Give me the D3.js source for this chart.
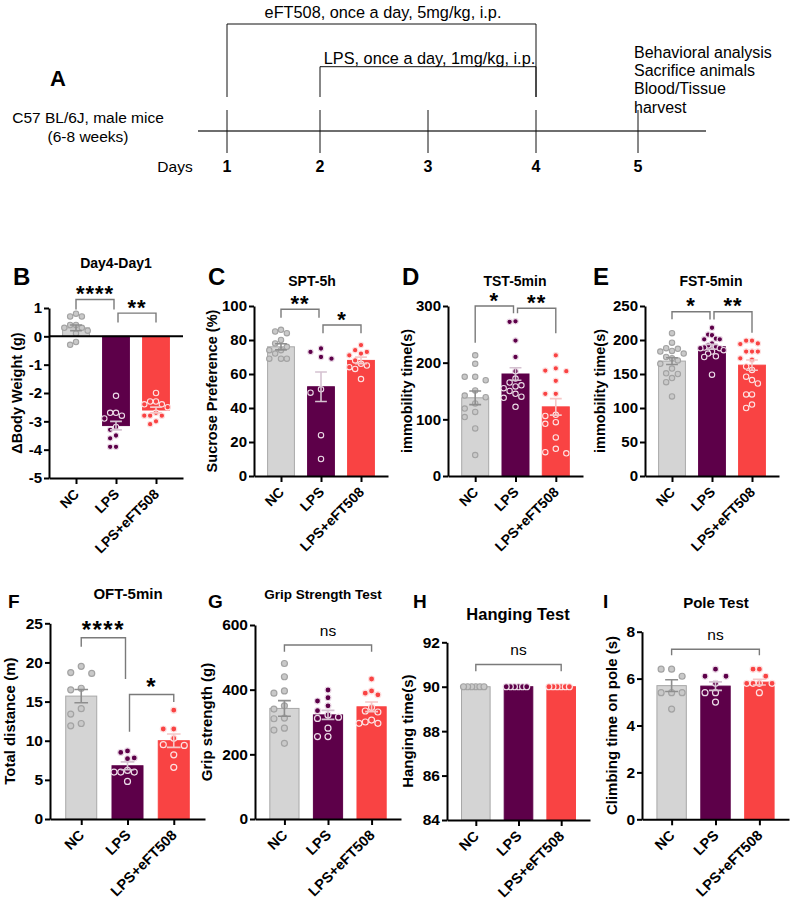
<!DOCTYPE html>
<html><head><meta charset="utf-8">
<script src="https://cdn.jsdelivr.net/npm/d3@7"></script>
<style>
body{margin:0;background:#fff}
svg{display:block}
text{font-family:"Liberation Sans",Arial,Helvetica,sans-serif;fill:#000}
</style></head>
<body><svg id="fig" width="790" height="908"></svg>
<script>
// ---------- DATA ----------
const groups = ["NC", "LPS", "LPS+eFT508"];

// Panel A (timeline)
const days = [1, 2, 3, 4, 5];
const dayAxisLabel = "Days";
const treatmentLabels = ["eFT508, once a day, 5mg/kg, i.p.", "LPS, once a day, 1mg/kg, i.p."];
const treatmentStart = [1, 2];
const treatmentEnd = [4, 4];
const animalLabel = ["C57 BL/6J, male mice", "(6-8 weeks)"];
const endpointLabel = ["Behavioral analysis", "Sacrifice animals", "Blood/Tissue", "harvest"];

// Panel B  Day4-Day1
const weightTicks = [-5, -4, -3, -2, -1, 0, 1];
const weightNC  = [0.8, 0.7, 0.7, 0.4, 0.4, 0.3, 0.3, 0.2, 0.1, -0.2, -0.3];
const weightLPS = [-2.1, -2.7, -2.7, -2.8, -2.9, -3.2, -3.3, -3.5, -3.6, -3.9, -3.9];
const weightEFT = [-2.0, -2.3, -2.3, -2.4, -2.4, -2.5, -2.7, -2.8, -2.8, -2.8, -3.0, -3.1];
const weightMean = [0.3, -3.15, -2.6];
const weightSEM  = [0.1, 0.15, 0.1];
const weightSig  = [[0, 1, "****", 1.30, 0.95, 0.95], [1, 2, "**", 0.82, 0.49, 0.49]];

// Panel C  SPT-5h
const sptTicks = [0, 20, 40, 60, 80, 100];
const sptNC  = [86, 85, 84, 80, 78, 76, 74, 74, 72, 69, 69, 69];
const sptLPS = [75, 73, 70, 69, 51, 49, 24, 10];
const sptEFT = [77, 74, 73, 72, 71, 68, 66, 65, 64, 63, 57];
const sptMean = [76, 52.5, 68];
const sptSEM  = [1.8, 8.7, 1.9];
const sptSig  = [[0, 1, "**", 98.1, 93.1, 93.1], [1, 2, "*", 88.8, 84, 84]];

// Panel D  TST-5min
const tstTicks = [0, 100, 200, 300];
const tstNC  = [213, 198, 175, 175, 169, 151, 142, 139, 128, 119, 113, 104, 84, 37];
const tstLPS = [273, 272, 239, 210, 185, 172, 165, 160, 158, 155, 150, 145, 140, 138, 122];
const tstEFT = [213, 190, 186, 185, 168, 145, 145, 108, 106, 95, 92, 68, 48, 42, 40];
const tstMean = [138, 180, 122];
const tstSEM  = [12, 11, 14.5];
const tstSig  = [[0, 1, "*", 300, 235, 287], [1, 2, "**", 296, 287, 252]];

// Panel E  FST-5min
const fstTicks = [0, 50, 100, 150, 200, 250];
const fstNC  = [210, 196, 188, 187, 184, 183, 180, 175, 173, 170, 165, 158, 151, 150, 144, 138, 117];
const fstLPS = [218, 208, 207, 202, 201, 201, 195, 192, 190, 189, 188, 188, 185, 183, 180, 176, 175, 149];
const fstEFT = [199, 199, 195, 194, 183, 183, 183, 173, 171, 161, 156, 146, 141, 136, 120, 120, 105, 100];
const fstMean = [169, 190, 163];
const fstSEM  = [5, 3.5, 7.5];
const fstSig  = [[0, 1, "*", 241.6, 230.4, 230], [1, 2, "**", 241.6, 230, 210.7]];

// Panel F  OFT-5min
const oftTicks = [0, 5, 10, 15, 20, 25];
const oftNC  = [19.5, 18.7, 18.6, 16.7, 16.5, 14.1, 13.4, 12.2, 11.9];
const oftLPS = [8.7, 8.5, 7.8, 7.7, 6.2, 6.0, 6.0, 6.0, 4.8];
const oftEFT = [13.9, 11.5, 11.5, 10.3, 9.5, 9.4, 8.2, 6.6];
const oftMean = [15.7, 6.8, 10.0];
const oftSEM  = [0.85, 0.5, 0.85];
const oftSig  = [[0, 1, "****", 23.15, 22.0, 17.9], [1, 2, "*", 15.9, 11.15, 14.95]];

// Panel G  Grip Strength Test
const gripTicks = [0, 200, 400, 600];
const gripNC  = [481, 440, 396, 389, 350, 340, 312, 310, 281, 275, 234];
const gripLPS = [399, 375, 365, 350, 335, 322, 315, 311, 281, 255, 255];
const gripEFT = [433, 396, 389, 384, 345, 334, 331, 306, 300, 296, 296];
const gripMean = [342, 322, 347];
const gripSEM  = [24, 14, 15];
const gripSig  = [[0, 2, "ns", 538, 517, 517]];

// Panel H  Hanging Test
const hangTicks = [84, 86, 88, 90, 92];
const hangNC  = [90, 90, 90, 90, 90, 90];
const hangLPS = [90, 90, 90, 90, 90, 90];
const hangEFT = [90, 90, 90, 90, 90, 90];
const hangMean = [90, 90, 90];
const hangSEM  = [0, 0, 0];
const hangSig  = [[0, 2, "ns", 91.0, 90.7, 90.7]];

// Panel I  Pole Test
const poleTicks = [0, 2, 4, 6, 8];
const poleNC  = [6.4, 6.4, 6.1, 5.4, 5.4, 5.4, 4.7];
const poleLPS = [6.4, 6.1, 6.1, 5.8, 5.4, 5.4, 5.0];
const poleEFT = [6.4, 6.4, 6.1, 5.8, 5.8, 5.8, 5.8, 5.4];
const poleMean = [5.7, 5.68, 5.85];
const poleSEM  = [0.25, 0.18, 0.12];
const poleSig  = [[0, 2, "ns", 7.25, 7.0, 7.0]];

// ---------- STYLE ----------
const barFill   = ["#d4d4d4", "#5d0049", "#f94343"];
const barStroke = ["#a8a8a8", "#5d0049", "#f94343"];
const ptFill    = ["#c9c9c9", "#5d0049", "#f94343"];
const ptStroke  = ["#a3a3a3", "#ecdce8", "#fde2e2"];
const errColor  = ["#8e8e8e", "#d5c2d1", "#f6c6c6"];

const svg = d3.select("#fig");

// ---------- PANEL A ----------
(function drawA(){
  const g = svg.append("g");
  const ax = d3.scaleLinear().domain(days).range([227, 320, 428, 536, 638]);
  g.append("text").attr("x", 50).attr("y", 86).attr("font-size", 22).attr("font-weight", "bold").text("A");
  g.append("line").attr("x1", 198).attr("x2", 706).attr("y1", 131).attr("y2", 131)
    .attr("stroke", "#6e6e6e").attr("stroke-width", 2.2);
  days.forEach(d => {
    g.append("line").attr("x1", ax(d)).attr("x2", ax(d)).attr("y1", 110).attr("y2", 153)
      .attr("stroke", "#111").attr("stroke-width", 1);
    g.append("text").attr("x", ax(d)).attr("y", 172).attr("text-anchor", "middle")
      .attr("font-size", 16).attr("font-weight", "bold").text(d);
  });
  g.append("text").attr("x", 175).attr("y", 172).attr("text-anchor", "middle")
    .attr("font-size", 15.5).text(dayAxisLabel);
  const levels = [24, 66.7], textY = [17.5, 64];
  treatmentLabels.forEach((t, i) => {
    const xa = ax(treatmentStart[i]), xb = ax(treatmentEnd[i]);
    g.append("path").attr("d", `M${xa},97V${levels[i]}H${xb}V97`).attr("fill", "none")
      .attr("stroke", "#111").attr("stroke-width", 1);
    g.append("text").attr("x", (xa + xb) / 2 + 1.5).attr("y", textY[i]).attr("text-anchor", "middle")
      .attr("font-size", 16.3).text(t);
  });
  animalLabel.forEach((t, i) => {
    g.append("text").attr("x", 88).attr("y", 123 + i * 19).attr("text-anchor", "middle")
      .attr("font-size", 15.5).text(t);
  });
  endpointLabel.forEach((t, i) => {
    g.append("text").attr("x", 634).attr("y", 57.5 + i * 18.4).attr("font-size", 16).text(t);
  });
})();

// ---------- BAR PANELS ----------
const panels = [
  {letter:"B", title:"Day4-Day1", ylab:"\u0394Body Weight (g)", pts:[weightNC, weightLPS, weightEFT], mean:weightMean, sem:weightSEM, ticks:weightTicks, sig:weightSig, domain:[-5,1], base:0,
   x0:49, x1:183, yTop:308, yBot:478, row:0, lx:13, ly:284.5, tx:116, ty:268, tfs:14, ylx:17},
  {letter:"C", title:"SPT-5h", ylab:"Sucrose Preference (%)", pts:[sptNC, sptLPS, sptEFT], mean:sptMean, sem:sptSEM, ticks:sptTicks, sig:sptSig, domain:[0,100], base:0,
   x0:254, x1:388, yTop:306, yBot:476, row:0, lx:208, ly:285, tx:312, ty:286, tfs:14, ylx:212},
  {letter:"D", title:"TST-5min", ylab:"immobility time(s)", pts:[tstNC, tstLPS, tstEFT], mean:tstMean, sem:tstSEM, ticks:tstTicks, sig:tstSig, domain:[0,300], base:0,
   x0:448, x1:583, yTop:306, yBot:476, row:0, lx:402, ly:285, tx:515, ty:286, tfs:14, ylx:407},
  {letter:"E", title:"FST-5min", ylab:"immobility time(s)", pts:[fstNC, fstLPS, fstEFT], mean:fstMean, sem:fstSEM, ticks:fstTicks, sig:fstSig, domain:[0,250], base:0,
   x0:645, x1:779, yTop:306, yBot:476, row:0, lx:593, ly:284.5, tx:711, ty:286, tfs:14, ylx:600},
  {letter:"F", title:"OFT-5min", ylab:"Total distance (m)", pts:[oftNC, oftLPS, oftEFT], mean:oftMean, sem:oftSEM, ticks:oftTicks, sig:oftSig, domain:[0,25], base:0,
   x0:50, x1:205, yTop:623.3, yBot:819, row:1, lx:8, ly:608, tx:128, ty:599, tfs:15, ylx:10},
  {letter:"G", title:"Grip Strength Test", ylab:"Grip strength (g)", pts:[gripNC, gripLPS, gripEFT], mean:gripMean, sem:gripSEM, ticks:gripTicks, sig:gripSig, domain:[0,600], base:0,
   x0:255, x1:401, yTop:625, yBot:819, row:1, lx:208, ly:608, tx:323, ty:599, tfs:13.5, ylx:207},
  {letter:"H", title:"Hanging Test", ylab:"Hanging time(s)", pts:[hangNC, hangLPS, hangEFT], mean:hangMean, sem:hangSEM, ticks:hangTicks, sig:hangSig, domain:[84,92], base:84,
   x0:447, x1:590, yTop:642.3, yBot:820, row:1, lx:413, ly:608, tx:518, ty:620, tfs:16.5, ylx:408},
  {letter:"I", title:"Pole Test", ylab:"Climbing time on pole (s)", pts:[poleNC, poleLPS, poleEFT], mean:poleMean, sem:poleSEM, ticks:poleTicks, sig:poleSig, domain:[0,8], base:0,
   x0:642, x1:789, yTop:631.7, yBot:819.3, row:1, lx:603, ly:608, tx:716, ty:607.5, tfs:15, ylx:612}
];

const rowStyle = [
  {letterFs:24, labFs:14, tickFs:15, ylabFs:14.5, r:2.7, sw:1.1, sigFs:22, sigLs:1, sigOff:11, nsFs:15},
  {letterFs:19, labFs:14.5, tickFs:15.5, ylabFs:15, r:3.0, sw:1.2, sigFs:24, sigLs:1.5, sigOff:13.5, nsFs:15.5}
];

function swarm(vals, y, r, bw) {
  const pts = vals.map(v => ({v, py: y(v)})).sort((a, b) => a.py - b.py);
  const placed = [];
  const minD = 2 * r + 1.5;
  pts.forEach(p => {
    for (let k = 0; k < 40; k++) {
      const col = k === 0 ? 0 : (k % 2 ? -Math.ceil(k / 2) : Math.ceil(k / 2));
      if (!placed.some(q => q.col === col && Math.abs(q.py - p.py) < minD)) { p.col = col; placed.push(p); break; }
    }
  });
  const maxC = d3.max(placed, p => Math.abs(p.col)) || 1;
  const s = Math.min(10.5, (bw - 2 * r + 2) / (2 * maxC));
  placed.forEach(p => p.dx = p.col * s);
  return placed;
}

const fmtTick = d => String(d);

panels.forEach(p => {
  const st = rowStyle[p.row];
  const g = svg.append("g");
  const y = d3.scaleLinear().domain(p.domain).range([p.yBot, p.yTop]);
  const x = d3.scalePoint().domain(groups).range([p.x0, p.x1]).padding(0.675);
  const bw = x.step() * 0.67;

  // bars
  groups.forEach((grp, i) => {
    const m = p.mean[i];
    g.append("rect").attr("x", x(grp) - bw / 2).attr("width", bw)
      .attr("y", Math.min(y(m), y(p.base))).attr("height", Math.abs(y(m) - y(p.base)))
      .attr("fill", barFill[i]).attr("stroke", barStroke[i]).attr("stroke-width", 1);
  });
  // points
  groups.forEach((grp, i) => {
    const sw = swarm(p.pts[i], y, st.r, bw);
    g.selectAll(null).data(sw).enter().append("circle")
      .attr("cx", d => x(grp) + d.dx).attr("cy", d => d.py).attr("r", st.r)
      .attr("fill", ptFill[i]).attr("stroke", ptStroke[i]).attr("stroke-width", st.sw);
  });
  // error bars
  groups.forEach((grp, i) => {
    const m = p.mean[i], e = p.sem[i];
    if (!e) return;
    const cx = x(grp), cw = bw * 0.22;
    const ya = y(m + e), yb = y(m - e);
    g.append("path").attr("d", `M${cx},${ya}V${yb}M${cx - cw},${ya}H${cx + cw}M${cx - cw},${yb}H${cx + cw}`)
      .attr("stroke", errColor[i]).attr("stroke-width", 1.6).attr("fill", "none");
  });

  // zero line (for panel with negative values)
  if (p.domain[0] < 0) {
    g.append("line").attr("x1", p.x0).attr("x2", p.x1).attr("y1", y(0)).attr("y2", y(0))
      .attr("stroke", "#000").attr("stroke-width", 2);
  }

  // y axis
  const yAxis = g.append("g").attr("transform", `translate(${p.x0},0)`)
    .call(d3.axisLeft(y).tickValues(p.ticks).tickFormat(fmtTick).tickSize(5).tickPadding(2).tickSizeOuter(0));
  yAxis.select(".domain").attr("stroke", "#000").attr("stroke-width", 2);
  yAxis.selectAll(".tick line").attr("stroke", "#000").attr("stroke-width", 2);
  yAxis.selectAll(".tick text").attr("font-size", st.tickFs).attr("font-weight", "bold")
    .attr("font-family", "'Liberation Sans',Arial,sans-serif").attr("fill", "#000");

  // x axis
  const xAxis = g.append("g").attr("transform", `translate(0,${p.yBot})`)
    .call(d3.axisBottom(x).tickSize(6).tickSizeOuter(0));
  xAxis.select(".domain").attr("stroke", "#000").attr("stroke-width", 2);
  xAxis.selectAll(".tick line").attr("stroke", "#000").attr("stroke-width", 2);
  xAxis.selectAll(".tick text").remove();
  groups.forEach(grp => {
    g.append("text").attr("transform", `translate(${x(grp) + 4},${p.yBot + 17}) rotate(-45)`)
      .attr("text-anchor", "end").attr("font-size", st.labFs).attr("font-weight", "bold").text(grp);
  });

  // y label
  g.append("text").attr("transform", `translate(${p.ylx},${(p.yTop + p.yBot) / 2}) rotate(-90)`)
    .attr("text-anchor", "middle").attr("dy", "0.35em").attr("font-size", st.ylabFs)
    .attr("font-weight", "bold").text(p.ylab);

  // title and letter
  g.append("text").attr("x", p.tx).attr("y", p.ty).attr("text-anchor", "middle")
    .attr("font-size", p.tfs).attr("font-weight", "bold").text(p.title);
  g.append("text").attr("x", p.lx).attr("y", p.ly).attr("font-size", st.letterFs)
    .attr("font-weight", "bold").text(p.letter);

  // significance brackets
  p.sig.forEach(s => {
    const [a, b, label, yl, la, lb] = s;
    let xa = x(groups[a]), xb = x(groups[b]);
    if (p.sig.some(o => o !== s && o[1] === a)) xa += 2;
    if (p.sig.some(o => o !== s && o[0] === b)) xb -= 2;
    g.append("path").attr("d", `M${xa},${y(la)}V${y(yl)}H${xb}V${y(lb)}`)
      .attr("fill", "none").attr("stroke", "#7a7a7a").attr("stroke-width", 1.4);
    const cy = y(yl) - st.sigOff;
    if (label === "ns") {
      g.append("text").attr("x", (xa + xb) / 2).attr("y", cy + 0.27 * st.nsFs)
        .attr("text-anchor", "middle").attr("font-size", st.nsFs).text(label);
    } else {
      g.append("text").attr("x", (xa + xb) / 2).attr("y", cy + 0.58 * st.sigFs)
        .attr("text-anchor", "middle").attr("font-size", st.sigFs).attr("font-weight", "bold")
        .attr("letter-spacing", st.sigLs).text(label);
    }
  });
});
</script>
</body></html>
